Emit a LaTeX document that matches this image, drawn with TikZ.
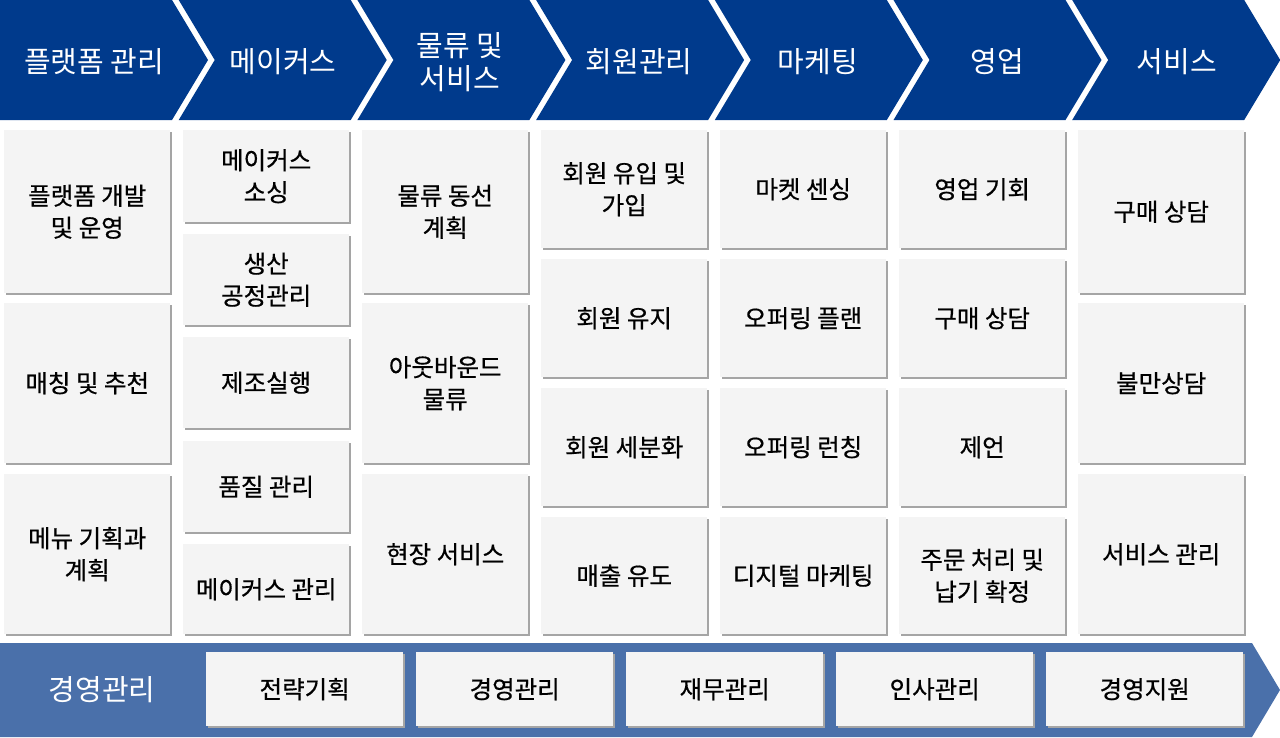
\documentclass[tikz,border=0pt]{standalone}
\usepackage{fontspec}
\setmainfont{Noto Sans CJK KR}
\newfontfamily\krbox{Noto Sans CJK KR}[FakeBold=0.6]
\usetikzlibrary{shadows}
\definecolor{hdr}{RGB}{0,58,140}
\definecolor{barc}{RGB}{74,112,170}
\definecolor{boxfill}{RGB}{244,244,244}
\definecolor{shadowc}{RGB}{165,165,165}
\tikzset{
  cell/.style={fill=boxfill, draw=none, minimum width=166pt, inner sep=0pt,
    align=center, font=\krbox\fontsize{24.5}{32}\selectfont, text=black, anchor=north west,
    drop shadow={shadow xshift=2pt, shadow yshift=-2pt, fill=shadowc, opacity=1}},
  barcell/.style={cell, minimum width=197pt, minimum height=74pt},
  hdrtext/.style={text=white, align=center, font=\fontsize{29}{33}\selectfont, inner sep=0pt},
  chev/.style={fill=hdr, draw=none}
}
\newcommand\cellbox[5]{\node[cell, minimum height=#4pt] (#1) at (#2,#3) {#5};}
\begin{document}
\begin{tikzpicture}[x=1pt,y=-1pt]
\useasboundingbox (0,0) rectangle (1280,737);
% header chevrons
\fill[chev] (0,0) -- (172,0) -- (208,60) -- (172,120) -- (0,120) -- cycle;
\foreach \k in {1,...,6}{
  \pgfmathsetmacro\L{178.7*\k}
  \fill[chev] (\L,0) -- (\L+172,0) -- (\L+208,60) -- (\L+172,120) -- (\L,120) -- (\L+36,60) -- cycle;
}
\node[hdrtext] (h1) at (94,62) {플랫폼 관리};
\node[hdrtext] (h2) at (283,62) {메이커스};
\node[hdrtext] (h3) at (460,62) {물류 및\\서비스};
\node[hdrtext] (h4) at (639,62) {회원관리};
\node[hdrtext] (h5) at (818,62) {마케팅};
\node[hdrtext] (h6) at (997,62) {영업};
\node[hdrtext] (h7) at (1177,62) {서비스};
% column 1
\cellbox{c11}{4}{130}{163}{플랫폼 개발\\및 운영}
\cellbox{c12}{4}{303}{160}{매칭 및 추천}
\cellbox{c13}{4}{474}{160}{메뉴 기획과\\계획}
% column 2
\cellbox{c21}{183}{130}{92}{메이커스\\소싱}
\cellbox{c22}{183}{234}{91}{생산\\공정관리}
\cellbox{c23}{183}{337}{91}{제조실행}
\cellbox{c24}{183}{441}{91}{품질 관리}
\cellbox{c25}{183}{544}{90}{메이커스 관리}
% column 3
\cellbox{c31}{362}{130}{163}{물류 동선\\계획}
\cellbox{c32}{362}{303}{160}{아웃바운드\\물류}
\cellbox{c33}{362}{474}{160}{현장 서비스}
% column 4
\cellbox{c41}{541}{130}{118}{회원 유입 및\\가입}
\cellbox{c42}{541}{259}{118}{회원 유지}
\cellbox{c43}{541}{388}{118}{회원 세분화}
\cellbox{c44}{541}{517}{117}{매출 유도}
% column 5
\cellbox{c51}{720}{130}{118}{마켓 센싱}
\cellbox{c52}{720}{259}{118}{오퍼링 플랜}
\cellbox{c53}{720}{388}{118}{오퍼링 런칭}
\cellbox{c54}{720}{517}{117}{디지털 마케팅}
% column 6
\cellbox{c61}{899}{130}{118}{영업 기회}
\cellbox{c62}{899}{259}{118}{구매 상담}
\cellbox{c63}{899}{388}{118}{제언}
\cellbox{c64}{899}{517}{117}{주문 처리 및\\납기 확정}
% column 7
\cellbox{c71}{1078}{130}{163}{구매 상담}
\cellbox{c72}{1078}{303}{160}{불만상담}
\cellbox{c73}{1078}{474}{160}{서비스 관리}
% bottom bar
\fill[barc] (0,643) -- (1252,643) -- (1280,690) -- (1252,737) -- (0,737) -- cycle;
\node[hdrtext] (b0) at (102,690) {경영관리};
\node[barcell] (b1) at (206,652) {전략기획};
\node[barcell] (b2) at (416,652) {경영관리};
\node[barcell] (b3) at (626,652) {재무관리};
\node[barcell] (b4) at (836,652) {인사관리};
\node[barcell] (b5) at (1046,652) {경영지원};
\end{tikzpicture}
\end{document}
